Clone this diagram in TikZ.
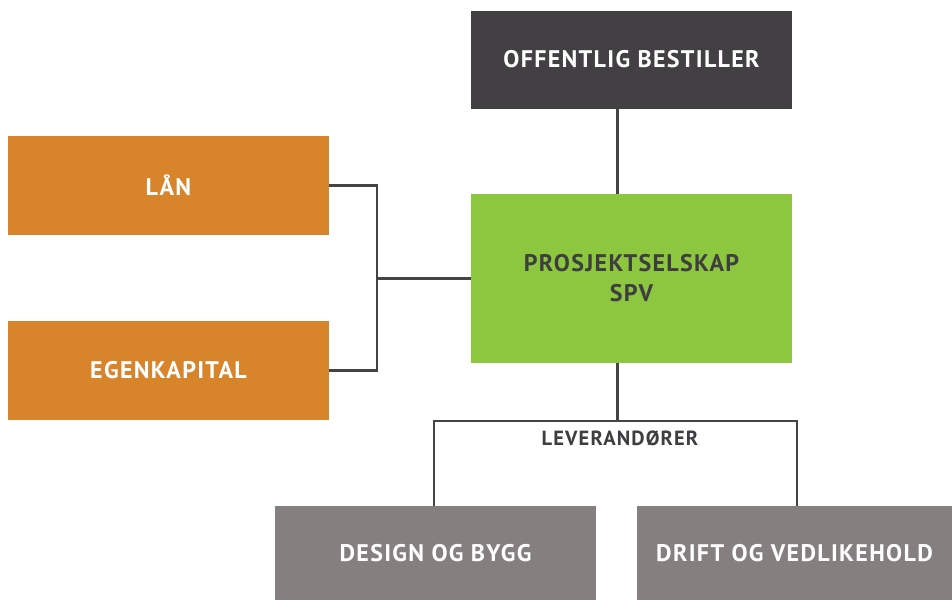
\documentclass[tikz,border=0pt]{standalone}
\usepackage{fontspec}
\setmainfont{PT Sans}[LetterSpace=5.5]
\definecolor{darkbox}{HTML}{424043}
\definecolor{greenbox}{HTML}{8DC63F}
\definecolor{orangebox}{HTML}{D8842B}
\definecolor{graybox}{HTML}{857F80}
\definecolor{linec}{HTML}{444444}
\definecolor{darktext}{HTML}{3E3E40}
\begin{document}
\begin{tikzpicture}[x=1pt,y=-1pt,
  box/.style={draw=none,inner sep=0pt,align=center,text=white,
    font=\fontsize{24}{30}\selectfont\bfseries,minimum width=321pt},
  conn/.style={draw=linec,line width=2.4pt},
  lbl/.style={text=darktext,font=\fontsize{20.5}{24}\selectfont\bfseries,inner sep=0pt}]
\useasboundingbox (0,0) rectangle (952,600);
\fill[white] (0,0) rectangle (952,600);
\node[box,fill=darkbox,minimum height=98pt] (top) at (631.5,60) {\raisebox{2pt}{OFFENTLIG BESTILLER}};
\node[box,fill=greenbox,minimum height=169pt,text=darktext] (spv) at (631.5,278.5) {PROSJEKTSELSKAP\\SPV};
\node[box,fill=orangebox,minimum height=99pt] (lan) at (168.5,185.5) {LÅN};
\node[box,fill=orangebox,minimum height=99pt] (egen) at (168.5,370.5) {EGENKAPITAL};
\node[box,fill=graybox,minimum height=94pt] (design) at (435.5,553) {DESIGN OG BYGG};
\node[box,fill=graybox,minimum height=94pt,minimum width=315pt] (drift) at (794.5,553) {DRIFT OG VEDLIKEHOLD};
\coordinate (tx) at (617.5,0);
\coordinate (bx) at (377,0);
\coordinate (bl) at (434,421);
\coordinate (br) at (797,421);
\coordinate (bm) at (617.5,421);
\draw[conn] (top.south -| tx) -- (spv.north -| tx);
\draw[conn] (lan.east) -- (lan.east -| bx) -- (egen.east -| bx) -- (egen.east);
\draw[conn] (spv.west -| bx) -- (spv.west);
\draw[conn] (spv.south -| tx) -- (bm);
\draw[conn] (design.north -| bl) -- (bl) -- (br) -- (drift.north -| br);
\node[lbl] (lev) at (620,438.5) {LEVERANDØRER};
\end{tikzpicture}
\end{document}
